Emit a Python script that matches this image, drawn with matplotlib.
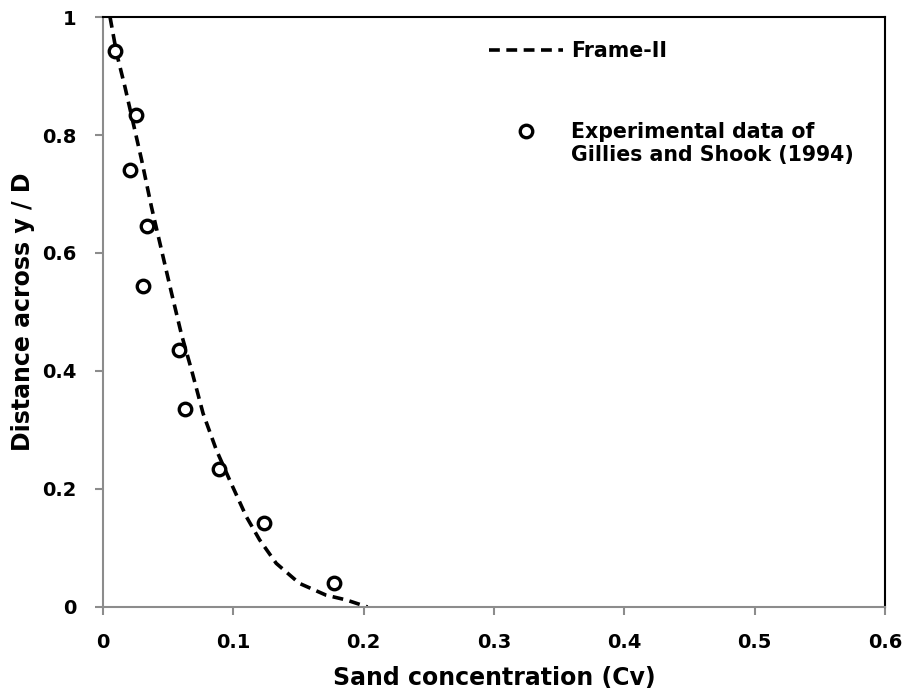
import matplotlib
matplotlib.use("Agg")
import matplotlib.pyplot as plt

plt.rcParams['font.family'] = ['DejaVu Sans']
plt.rcParams['font.weight'] = 'bold'

# Model curve (Frame-II)
curve_cv = [0.0054, 0.0105, 0.0168, 0.0232, 0.0296, 0.0372, 0.0449, 0.0526, 0.0602,
            0.0679, 0.0768, 0.0870, 0.0972, 0.110, 0.1201, 0.1329, 0.1507, 0.1712,
            0.1865, 0.203]
curve_y = [1.0, 0.938, 0.882, 0.820, 0.758, 0.678, 0.605, 0.532, 0.462,
           0.402, 0.328, 0.266, 0.215, 0.153, 0.114, 0.074, 0.040, 0.020,
           0.012, 0.0]

# Experimental data of Gillies and Shook (1994)
exp_cv = [0.0092, 0.0257, 0.0207, 0.0339, 0.0309, 0.0582, 0.0628, 0.089, 0.1233, 0.1776]
exp_y = [0.943, 0.834, 0.741, 0.646, 0.544, 0.436, 0.336, 0.234, 0.143, 0.041]

x_ticks = [0, 0.1, 0.2, 0.3, 0.4, 0.5, 0.6]
x_ticklabels = ['0', '0.1', '0.2', '0.3', '0.4', '0.5', '0.6']
y_ticks = [0, 0.2, 0.4, 0.6, 0.8, 1.0]
y_ticklabels = ['0', '0.2', '0.4', '0.6', '0.8', '1']

fig = plt.figure(figsize=(9.09, 7.0), dpi=100)
ax = fig.add_axes([0.1133, 0.1329, 0.9736 - 0.1133, 0.9757 - 0.1329])

ax.plot(curve_cv, curve_y, color='black', lw=2.6, dashes=(3.0, 1.8), label='Frame-II')
ax.plot(exp_cv, exp_y, linestyle='none', marker='o', markersize=9, markerfacecolor='white',
        markeredgecolor='black', markeredgewidth=2.4,
        label='Experimental data of\nGillies and Shook (1994)')

ax.set_xlim(0, 0.6)
ax.set_ylim(0, 1)
ax.set_xticks(x_ticks)
ax.set_xticklabels(x_ticklabels)
ax.set_yticks(y_ticks)
ax.set_yticklabels(y_ticklabels)

for s in ['left', 'bottom']:
    ax.spines[s].set_color('#8c8c8c')
    ax.spines[s].set_linewidth(1.5)
for s in ['top', 'right']:
    ax.spines[s].set_color('black')
    ax.spines[s].set_linewidth(1.5)

ax.tick_params(axis='both', direction='out', length=6, width=1.5, color='#8c8c8c',
               labelsize=14)
ax.tick_params(axis='x', pad=13)
ax.tick_params(axis='y', pad=13)
for lab in ax.get_xticklabels() + ax.get_yticklabels():
    lab.set_fontweight('bold')

ax.set_xlabel('Sand concentration (Cv)', fontsize=17, fontweight='bold', labelpad=10)
ax.set_ylabel('Distance across y / D', fontsize=17, fontweight='bold', labelpad=5)

leg = ax.legend(loc='upper left', bbox_to_anchor=(0.47, 0.99), frameon=False,
                handlelength=3.6, handletextpad=0.4, labelspacing=2.95,
                prop={'weight': 'bold', 'size': 14.8})
# align the marker with the first text line of its two-line label
mk = leg.legend_handles[1]
mk.set_ydata([v + 9.5 for v in mk.get_ydata()])

fig.savefig('out.png', dpi=100)
